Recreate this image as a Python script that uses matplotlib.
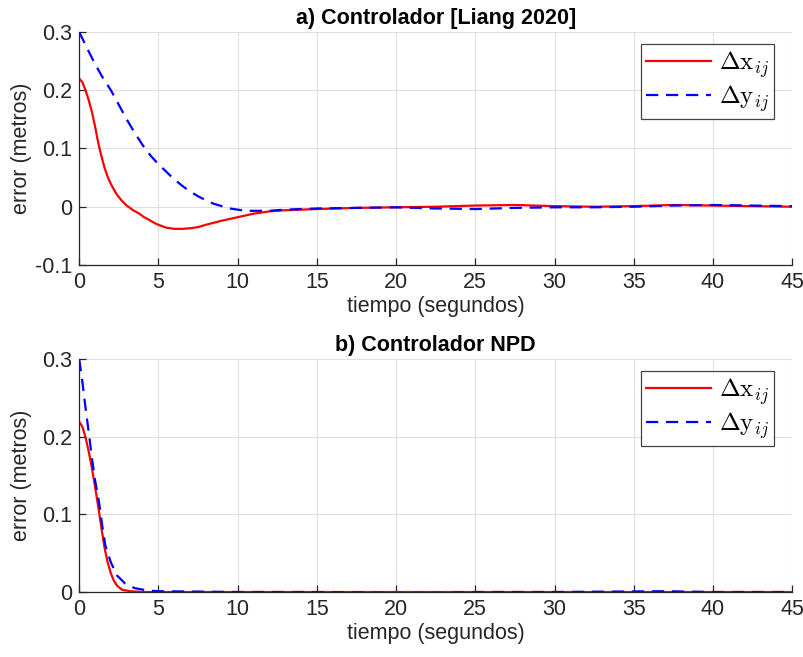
import numpy as np
import matplotlib
matplotlib.use('Agg')
import matplotlib.pyplot as plt

# panel a) Controlador [Liang 2020]
t_a_x = [0, 0.2, 0.4, 0.6, 0.8, 1.0, 1.2, 1.4, 1.6, 1.8, 2.0, 2.2, 2.4, 2.7,
         3.0, 3.4, 3.8, 4.1, 4.5, 4.9, 5.5, 6.0, 6.5, 7.0, 7.5, 8.0, 9.0, 10.0,
         11.0, 12.0, 13.0, 15.0, 17.5, 20, 22.5, 25, 27.5, 30, 32.5, 35, 37.5,
         40, 42.5, 45]
dx_a = [0.220, 0.214, 0.200, 0.183, 0.163, 0.138, 0.110, 0.087, 0.067, 0.051,
        0.039, 0.029, 0.020, 0.010, 0.002, -0.006, -0.012, -0.018, -0.024,
        -0.030, -0.036, -0.038, -0.038, -0.037, -0.035, -0.031, -0.024, -0.018,
        -0.012, -0.008, -0.006, -0.004, -0.002, -0.001, 0.000, 0.002, 0.003,
        0.001, 0.000, 0.001, 0.003, 0.002, 0.001, 0.000]
t_a_y = [0, 0.5, 1.0, 1.5, 2.0, 2.5, 3.0, 3.5, 4.0, 4.5, 5.0, 5.5, 6.0, 6.5,
         7.0, 7.5, 8.0, 8.5, 9.0, 9.5, 10.0, 10.5, 11.0, 12.0, 13.0, 14.0, 15.0,
         17.5, 20, 22.5, 25, 27.5, 30, 32.5, 35, 37.5, 40, 42.5, 45]
dy_a = [0.300, 0.272, 0.245, 0.221, 0.200, 0.175, 0.150, 0.127, 0.106, 0.088,
        0.073, 0.060, 0.047, 0.036, 0.026, 0.018, 0.011, 0.005, 0.001, -0.003,
        -0.005, -0.007, -0.007, -0.007, -0.005, -0.004, -0.003, -0.002, -0.001,
        -0.003, -0.004, -0.002, -0.001, -0.001, 0.000, 0.002, 0.003, 0.002, 0.001]

# panel b) Controlador NPD
t_b_x = [0, 0.2, 0.4, 0.6, 0.8, 1.0, 1.2, 1.4, 1.6, 1.8, 2.0, 2.2, 2.4, 2.7,
         3.2, 4.0, 10, 15, 20, 25, 30, 35, 40, 45]
dx_b = [0.219, 0.213, 0.199, 0.181, 0.160, 0.136, 0.110, 0.083, 0.057, 0.038,
        0.024, 0.014, 0.008, 0.003, 0.001, 0.000, 0.000, 0.000, 0.000, 0.000,
        0.000, 0.000, 0.000, 0.000]
t_b_y = [0, 0.2, 0.4, 0.6, 0.8, 1.0, 1.25, 1.45, 1.65, 2.0, 2.4, 2.9, 3.5, 4.3,
         5.0, 10, 15, 20, 23, 25, 30, 37, 40, 45]
dy_b = [0.300, 0.271, 0.237, 0.206, 0.173, 0.144, 0.116, 0.086, 0.060, 0.038,
        0.021, 0.011, 0.005, 0.002, 0.001, 0.000, 0.000, -0.001, -0.001, 0.000,
        0.000, 0.001, 0.000, 0.000]

titles = ['a) Controlador [Liang 2020]', 'b) Controlador NPD']
ylims = [(-0.1, 0.3), (0, 0.3)]
yticks = [[-0.1, 0, 0.1, 0.2, 0.3], [0, 0.1, 0.2, 0.3]]
xticks = list(range(0, 50, 5))

plt.rcParams['font.family'] = ['Liberation Sans', 'DejaVu Sans']
plt.rcParams['mathtext.fontset'] = 'cm'
plt.rcParams['axes.unicode_minus'] = False

fig = plt.figure(figsize=(8.04, 6.57), dpi=100)
ax_a = fig.add_axes([0.0985, 0.5967, 0.8868, 0.3546])
ax_b = fig.add_axes([0.0985, 0.0989, 0.8868, 0.3546])

fs = 15.5
data = [(t_a_x, dx_a, t_a_y, dy_a), (t_b_x, dx_b, t_b_y, dy_b)]
for ax, (tx, vx, ty, vy), title, yl, yt in zip([ax_a, ax_b], data, titles, ylims, yticks):
    ax.plot(tx, vx, color='#ff0000', lw=1.6, label=r'$\Delta\mathrm{x}_{ij}$')
    ax.plot(ty, vy, color='#0000ff', lw=1.6, dashes=(5.5, 3.5),
            label=r'$\Delta\mathrm{y}_{ij}$')
    ax.set_xlim(0, 45)
    ax.set_ylim(*yl)
    ax.set_xticks(xticks)
    ax.set_yticks(yt)
    ax.set_yticklabels(['0' if v == 0 else f'{v:g}' for v in yt])
    ax.grid(True, color='#e0e0e0', lw=0.8)
    ax.set_axisbelow(True)
    for s in ['top', 'right']:
        ax.spines[s].set_visible(False)
    for s in ['left', 'bottom']:
        ax.spines[s].set_color('#262626')
        ax.spines[s].set_linewidth(0.9)
    ax.tick_params(direction='in', length=5, width=0.9, colors='#262626',
                   labelsize=fs, labelcolor='#262626', pad=5)
    ax.set_xlabel('tiempo (segundos)', fontsize=fs, color='#262626', labelpad=2)
    ax.set_ylabel('error (metros)', fontsize=fs, color='#262626')
    ax.yaxis.set_label_coords(-0.066, 0.5)
    ax.set_title(title, fontsize=fs, fontweight='bold', pad=6)
    leg = ax.legend(loc='upper right', bbox_to_anchor=(0.975, 0.948),
                    borderaxespad=0, fontsize=18, handlelength=2.6,
                    handletextpad=0.3, borderpad=0.22, labelspacing=0.1,
                    fancybox=False, framealpha=1, edgecolor='#444444')
    leg.get_frame().set_linewidth(0.9)

plt.savefig('out.png', dpi=100)
